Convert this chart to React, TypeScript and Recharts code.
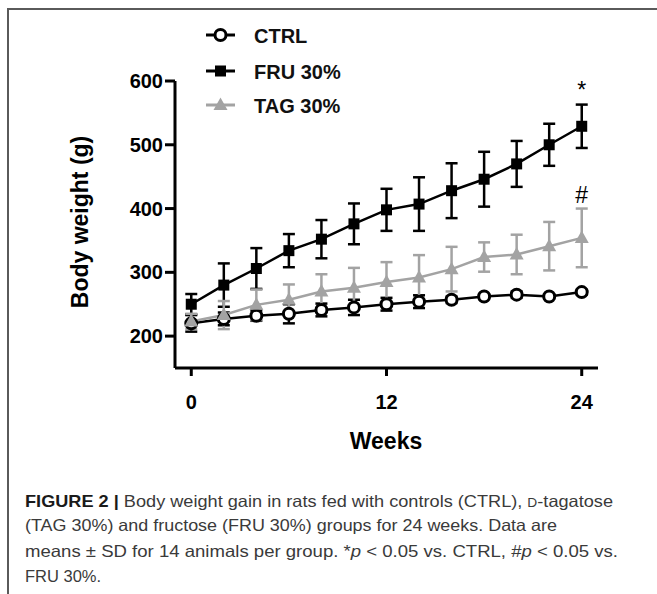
import { LineChart, Line, XAxis, YAxis, ErrorBar, Label } from 'recharts'

const weeks = [0, 2, 4, 6, 8, 10, 12, 14, 16, 18, 20, 22, 24]
const ctrl = [220, 227, 232, 235, 241, 245, 250, 254, 257, 262, 265, 262, 269]
const ctrlSd = [13, 10, 8, 15, 10, 12, 10, 10, 5, 4, 5, 3, 4]
const fru = [250, 280, 306, 334, 352, 376, 398, 407, 428, 446, 470, 500, 529]
const fruSd = [16, 34, 32, 26, 30, 32, 33, 42, 43, 43, 36, 33, 34]
const tag = [223, 233, 249, 257, 270, 276, 285, 292, 305, 324, 328, 341, 354]
const tagSd = [12, 22, 24, 24, 27, 31, 31, 35, 35, 23, 31, 38, 46]

const xTicks = [0, 12, 24]
const yTicks = [200, 300, 400, 500, 600]

const GREY = '#a3a3a3'
const FONT = '"Liberation Sans", Arial, Helvetica, sans-serif'

const data = weeks.map((w, i) => ({
  week: w,
  ctrl: ctrl[i],
  ctrlSd: ctrlSd[i],
  fru: fru[i],
  fruSd: fruSd[i],
  tag: tag[i],
  tagSd: tagSd[i],
}))

const circleDot = (p: any) => (
  <circle key={`c${p.index}`} cx={p.cx} cy={p.cy} r={5.5} fill="#fff" stroke="#000" strokeWidth={3} />
)
const squareDot = (p: any) => (
  <rect key={`s${p.index}`} x={p.cx - 5.5} y={p.cy - 5.5} width={11} height={11} fill="#000" />
)
const triangleDot = (p: any) => (
  <path key={`t${p.index}`} d={`M${p.cx},${p.cy - 7.5} L${p.cx + 7},${p.cy + 5} L${p.cx - 7},${p.cy + 5} Z`} fill={GREY} />
)

// significance marks above the last point
const sigLabel = (mark: string, lift: number) => (p: any) =>
  p.index === weeks.length - 1 ? (
    <text key={`l${mark}`} x={p.x} y={p.y - lift} textAnchor="middle" fontFamily={FONT} fontSize={23} fill="#000">
      {mark}
    </text>
  ) : null

const tickStyle = { fontFamily: FONT, fontSize: 20, fontWeight: 'bold', fill: '#000' }

function LegendBox() {
  const rows = [
    { name: 'CTRL', y: 35, color: '#000', shape: 'circle' },
    { name: 'FRU 30%', y: 71, color: '#000', shape: 'square' },
    { name: 'TAG 30%', y: 105, color: GREY, shape: 'triangle' },
  ]
  return (
    <svg width={657} height={130} style={{ position: 'absolute', left: 0, top: 0 }}>
      {rows.map(r => (
        <g key={r.name}>
          <line x1={206} x2={235} y1={r.y} y2={r.y} stroke={r.color} strokeWidth={3} />
          {r.shape === 'circle' && circleDot({ cx: 220.5, cy: r.y, index: 0 })}
          {r.shape === 'square' && squareDot({ cx: 220.5, cy: r.y, index: 0 })}
          {r.shape === 'triangle' && triangleDot({ cx: 220.5, cy: r.y, index: 0 })}
          <text x={254} y={r.y + 7.5} fontFamily={FONT} fontSize={20} fontWeight="bold" fill="#111">
            {r.name}
          </text>
        </g>
      ))}
    </svg>
  )
}

function Caption() {
  const base = { fontFamily: FONT, fontSize: 16.5, fill: '#3a3a3a' }
  return (
    <svg width={657} height={114} style={{ position: 'absolute', left: 0, top: 480 }}>
      <text x={25} y={26.5} {...base} textLength={588} lengthAdjust="spacingAndGlyphs">
        <tspan fontWeight="bold" fill="#1a1a1a">FIGURE 2 |</tspan> Body weight gain in rats fed with controls (CTRL),{' '}
        <tspan fontSize={12.5}>D</tspan>-tagatose
      </text>
      <text x={25} y={51} {...base} textLength={532} lengthAdjust="spacingAndGlyphs">
        (TAG 30%) and fructose (FRU 30%) groups for 24 weeks. Data are
      </text>
      <text x={25} y={77} {...base} textLength={593} lengthAdjust="spacingAndGlyphs">
        means ± SD for 14 animals per group. *<tspan fontStyle="italic">p</tspan> {'<'} 0.05 vs. CTRL, #
        <tspan fontStyle="italic">p</tspan> {'<'} 0.05 vs.
      </text>
      <text x={25} y={102} {...base}>
        FRU 30%.
      </text>
    </svg>
  )
}

export default function App() {
  return (
    <div style={{ position: 'absolute', left: 0, top: 0, width: 657, height: 594, background: '#fff', overflow: 'hidden' }}>
      <div
        style={{
          position: 'absolute',
          left: 7,
          top: 8,
          width: 660,
          height: 600,
          borderTop: '2px solid #5a5a5a',
          borderLeft: '2px solid #5a5a5a',
        }}
      />
      <div style={{ position: 'absolute', left: 0, top: 0 }}>
        <LineChart width={657} height={470} data={data} margin={{ top: 81, right: 59, bottom: 22, left: 0 }}>
          <XAxis
            dataKey="week"
            type="number"
            domain={[-1, 25]}
            ticks={xTicks}
            height={80}
            tick={tickStyle}
            tickSize={8}
            tickMargin={19}
            axisLine={{ stroke: '#000', strokeWidth: 3 }}
            tickLine={{ stroke: '#000', strokeWidth: 3 }}
          >
            <Label
              content={() => (
                <text x={386} y={449} textAnchor="middle" fontFamily={FONT} fontSize={23} fontWeight="bold" fill="#000">
                  Weeks
                </text>
              )}
            />
          </XAxis>
          <YAxis
            type="number"
            domain={[150, 600]}
            ticks={yTicks}
            width={175}
            tick={tickStyle}
            tickSize={10}
            tickMargin={2}
            allowDataOverflow
            axisLine={{ stroke: '#000', strokeWidth: 3 }}
            tickLine={{ stroke: '#000', strokeWidth: 3 }}
          >
            <Label
              content={() => (
                <text
                  x={80}
                  y={222}
                  transform="rotate(-90, 80, 222)"
                  textAnchor="middle"
                  dominantBaseline="central"
                  fontFamily={FONT}
                  fontSize={23}
                  fontWeight="bold"
                  fill="#000"
                >
                  Body weight (g)
                </text>
              )}
            />
          </YAxis>
          <Line dataKey="ctrl" stroke="#000" strokeWidth={2.5} dot={circleDot} isAnimationActive={false}>
            <ErrorBar dataKey="ctrlSd" width={6} stroke="#000" strokeWidth={2.5} direction="y" />
          </Line>
          <Line dataKey="fru" stroke="#000" strokeWidth={2.5} dot={squareDot} isAnimationActive={false} label={sigLabel('*', 28)}>
            <ErrorBar dataKey="fruSd" width={6} stroke="#000" strokeWidth={2.5} direction="y" />
          </Line>
          <Line dataKey="tag" stroke={GREY} strokeWidth={2.5} dot={triangleDot} isAnimationActive={false} label={sigLabel('#', 35)}>
            <ErrorBar dataKey="tagSd" width={6} stroke={GREY} strokeWidth={2.5} direction="y" />
          </Line>
        </LineChart>
      </div>
      <LegendBox />
      <Caption />
    </div>
  )
}
